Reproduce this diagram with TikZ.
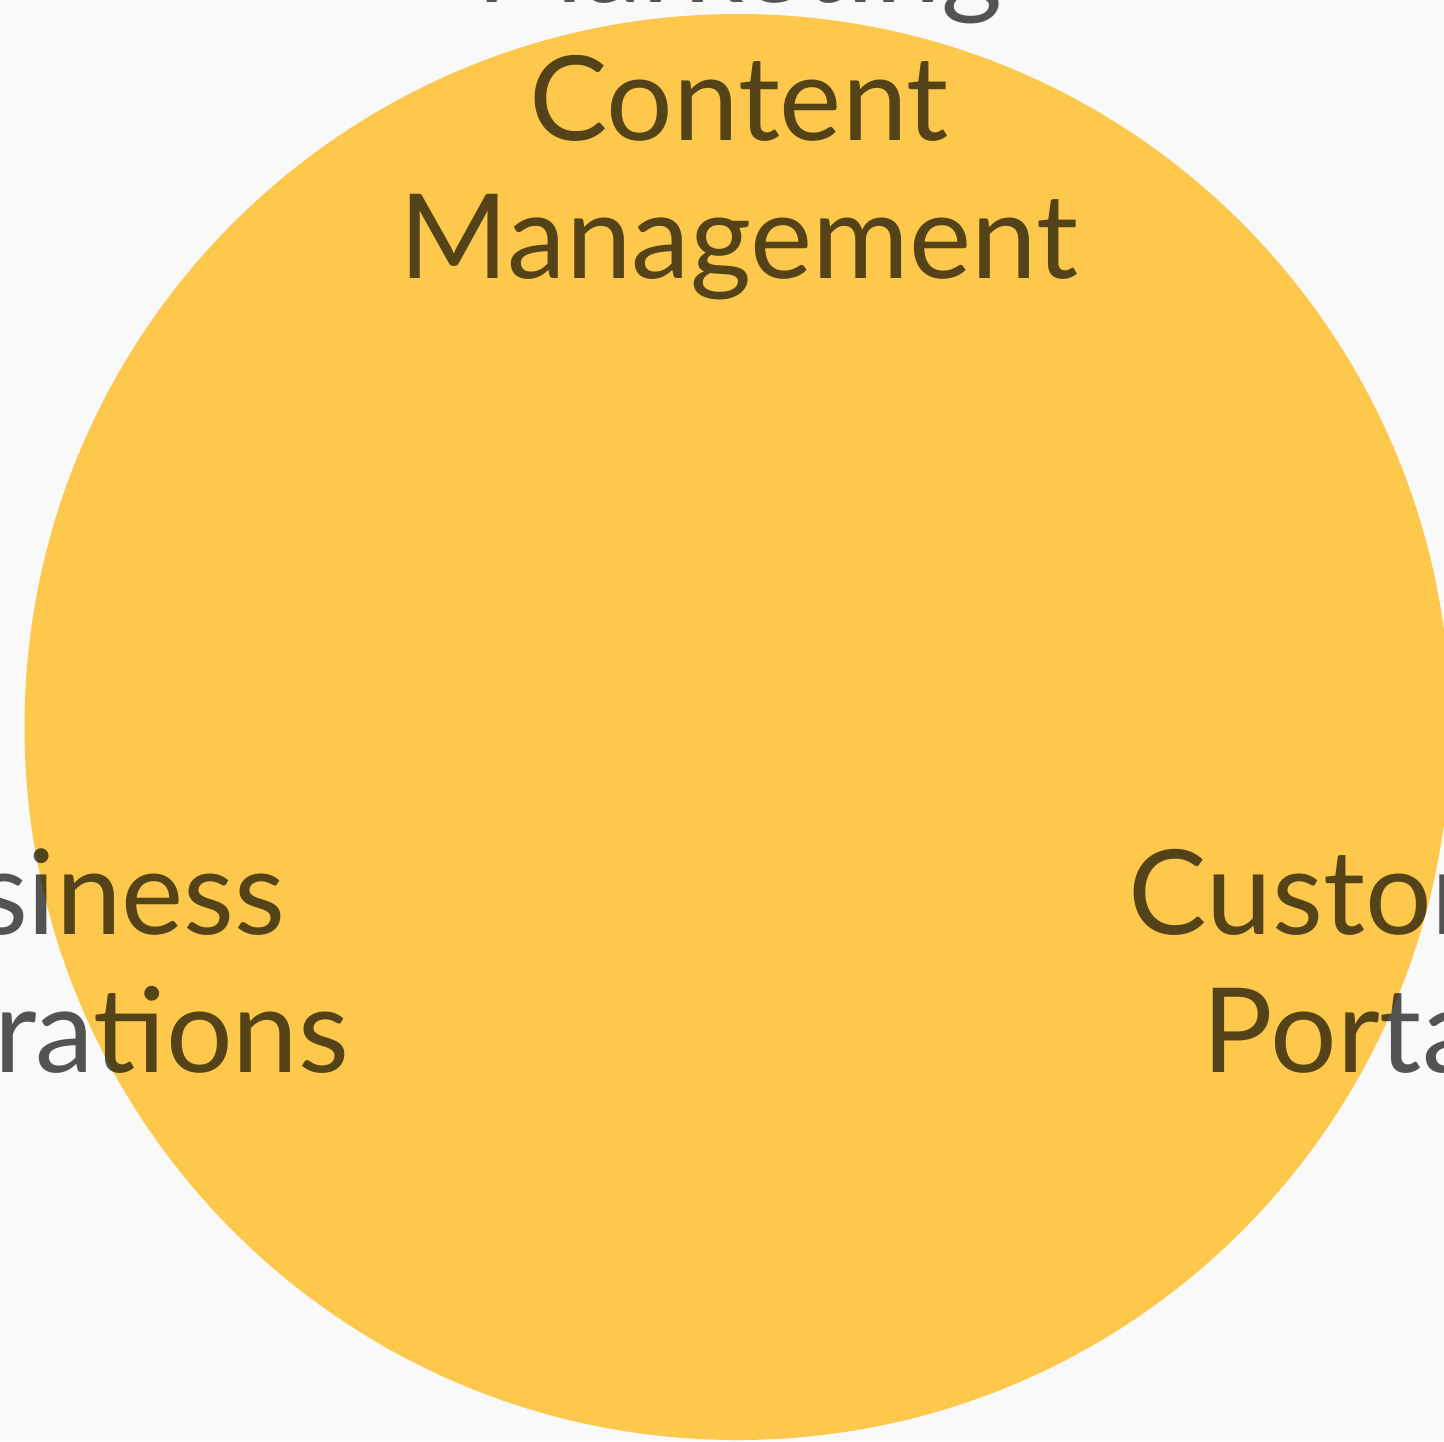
\documentclass[tikz,border=0pt]{standalone}
\usepackage{fontspec}
\setmainfont{Lato}
\definecolor{bgc}{HTML}{F9F9F9}
\definecolor{circ}{HTML}{FEC84C}
\definecolor{txt}{HTML}{555555}
\tikzset{
  lbl/.style={text=txt, align=center, inner sep=0pt, font=\fontsize{58.8}{69}\selectfont},
}
\begin{document}
\begin{tikzpicture}[x=0.5pt,y=-0.5pt]
\useasboundingbox (0,0) rectangle (1444,1441);
\fill[bgc] (0,0) rectangle (1444,1441);
\fill[circ] (737.5,727) circle[radius=713];
\begin{scope}[blend mode=multiply]
\node[lbl, anchor=base] (mkt) at (739,278) {Marketing\\Content\\Management};
\node[lbl, anchor=base] (bus) at (61,1072) {Business\\Operations};
\node[lbl, anchor=base] (cus) at (1381,1072) {Customer\\Portals};
\end{scope}
\end{tikzpicture}
\end{document}
